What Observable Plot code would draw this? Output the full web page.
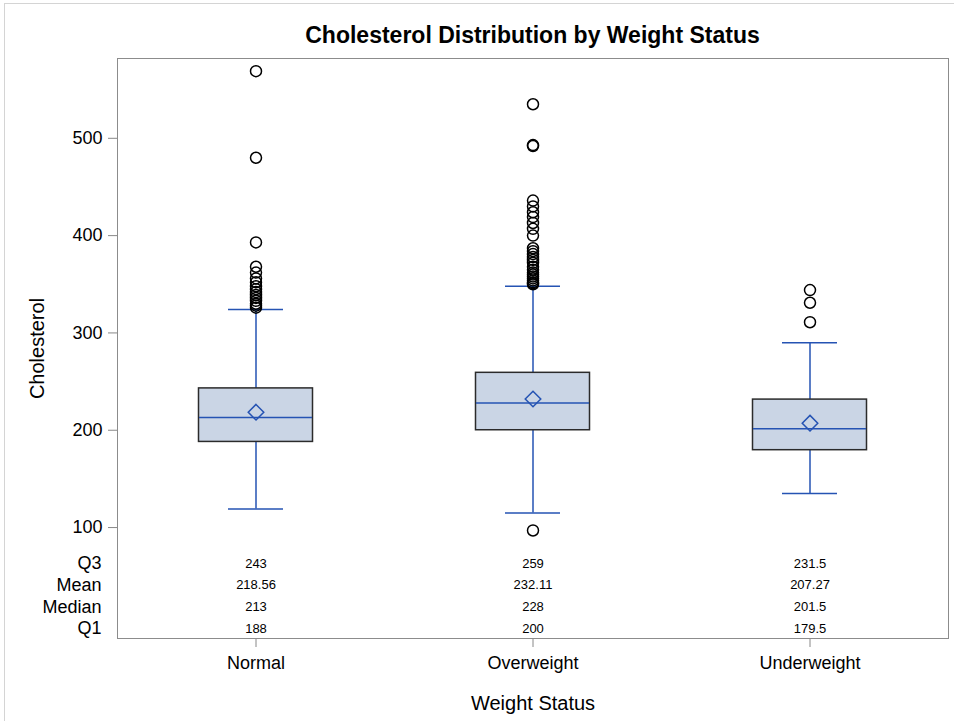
<!DOCTYPE html>
<html>
<head>
<meta charset="utf-8">
<script src="https://cdn.jsdelivr.net/npm/d3@7"></script>
<script src="https://cdn.jsdelivr.net/npm/@observablehq/plot@0.6"></script>
<style>
  body { margin: 0; background: #fff; font-family: "Liberation Sans", Arial, sans-serif; }
  #page { position: relative; width: 954px; height: 721px; overflow: hidden; }
  #border { position: absolute; left: 4px; top: 3px; right: -10px; bottom: -10px; border: 1px solid #d4d4d4; }
  #title { position: absolute; top: 23px; left: 117px; width: 831px; text-align: center;
           font: bold 23px/24px "Liberation Sans", Arial, sans-serif; color: #000; }
  #chart { position: absolute; top: 50px; left: 0; }
</style>
</head>
<body>
<div id="page">
  <div id="border"></div>
  <div id="title">Cholesterol Distribution by Weight Status</div>
  <div id="chart"></div>
</div>
<script>
const categories = ["Normal", "Overweight", "Underweight"];
const q1 = [188, 200, 179.5];
const median = [213, 228, 201.5];
const q3 = [243, 259, 231.5];
const mean = [218.56, 232.11, 207.27];
const whiskerLow = [119, 115, 135];
const whiskerHigh = [324, 348, 290];
const outliersNormal = [569, 480, 393, 368, 362, 356, 352, 348, 345, 342, 339, 336, 333, 330, 328, 326];
const outliersOverweight = [535, 493, 492, 436, 430, 424, 419, 413, 407, 400, 387, 384, 381, 378, 375, 372, 368, 365, 362, 360, 358, 356, 354, 352, 351, 350, 97];
const outliersUnderweight = [344, 331, 311];
const yTicks = [100, 200, 300, 400, 500];
const statLabels = ["Q3", "Mean", "Median", "Q1"];

const boxes = categories.map((c, i) => ({
  cat: c, q1: q1[i], median: median[i], q3: q3[i], mean: mean[i], lo: whiskerLow[i], hi: whiskerHigh[i]
}));
const outliers = [
  ...outliersNormal.map(v => ({cat: categories[0], v})),
  ...outliersOverweight.map(v => ({cat: categories[1], v})),
  ...outliersUnderweight.map(v => ({cat: categories[2], v}))
];
const statValues = {Q3: q3, Mean: mean, Median: median, Q1: q1};

const blue = "#2553b3";
const rowGap = 21.7;
const statMarks = statLabels.flatMap((lab, r) => {
  const dy = -10 - (statLabels.length - 1 - r) * rowGap;
  return [
    Plot.text([lab], {text: d => d, frameAnchor: "bottom-left", dx: -16, dy, textAnchor: "end", lineAnchor: "middle", fontSize: 18}),
    Plot.text(categories, {x: d => d, text: (d, i) => String(statValues[lab][i]), frameAnchor: "bottom", dy, lineAnchor: "middle", fontSize: 13})
  ];
});

const plot = Plot.plot({
  width: 954,
  height: 671,
  marginTop: 8,
  marginBottom: 83,
  marginLeft: 117,
  marginRight: 6,
  style: {fontFamily: "Liberation Sans, Arial, sans-serif", fontSize: "18px", color: "#000", background: "transparent"},
  x: {domain: categories, padding: 0},
  y: {domain: [-14, 582]},
  marks: [
    Plot.axisY({ticks: yTicks, tickSize: 9, tickPadding: 6, stroke: "#888", label: "Cholesterol", labelAnchor: "center", labelOffset: 88, labelArrow: "none"}),
    Plot.axisX({tickSize: 9, tickPadding: 9, stroke: "#888", label: "Weight Status", labelAnchor: "center", labelOffset: 71, labelArrow: "none"}),
    Plot.ruleX(boxes, {x: "cat", y1: "q3", y2: "hi", stroke: blue, strokeWidth: 1.5}),
    Plot.ruleX(boxes, {x: "cat", y1: "lo", y2: "q1", stroke: blue, strokeWidth: 1.5}),
    Plot.tickY(boxes, {x: "cat", y: "hi", stroke: blue, strokeWidth: 1.5, inset: 111}),
    Plot.tickY(boxes, {x: "cat", y: "lo", stroke: blue, strokeWidth: 1.5, inset: 111}),
    Plot.barY(boxes, {x: "cat", y1: "q1", y2: "q3", fill: "#cad5e5", stroke: "#2b2b2b", strokeWidth: 1.5, insetLeft: 81.5, insetRight: 81.5}),
    Plot.tickY(boxes, {x: "cat", y: "median", stroke: blue, strokeWidth: 1.5, inset: 82}),
    Plot.dot(boxes, {x: "cat", y: "mean", symbol: "diamond2", r: 7, stroke: blue, strokeWidth: 1.5, fill: "none"}),
    Plot.dot(outliers, {x: "cat", y: "v", r: 5.5, stroke: "#000", strokeWidth: 1.5, fill: "none"}),
    ...statMarks,
    Plot.frame({stroke: "#8c8c8c"})
  ]
});
document.getElementById("chart").appendChild(plot);
plot.querySelectorAll('g[aria-label="y-axis label"], g[aria-label="x-axis label"]').forEach(g => g.setAttribute("font-size", "20"));
plot.querySelectorAll('g[aria-label="y-axis label"] text, g[aria-label="x-axis label"] text').forEach(t => t.style.fontSize = "20px");
</script>
</body>
</html>
